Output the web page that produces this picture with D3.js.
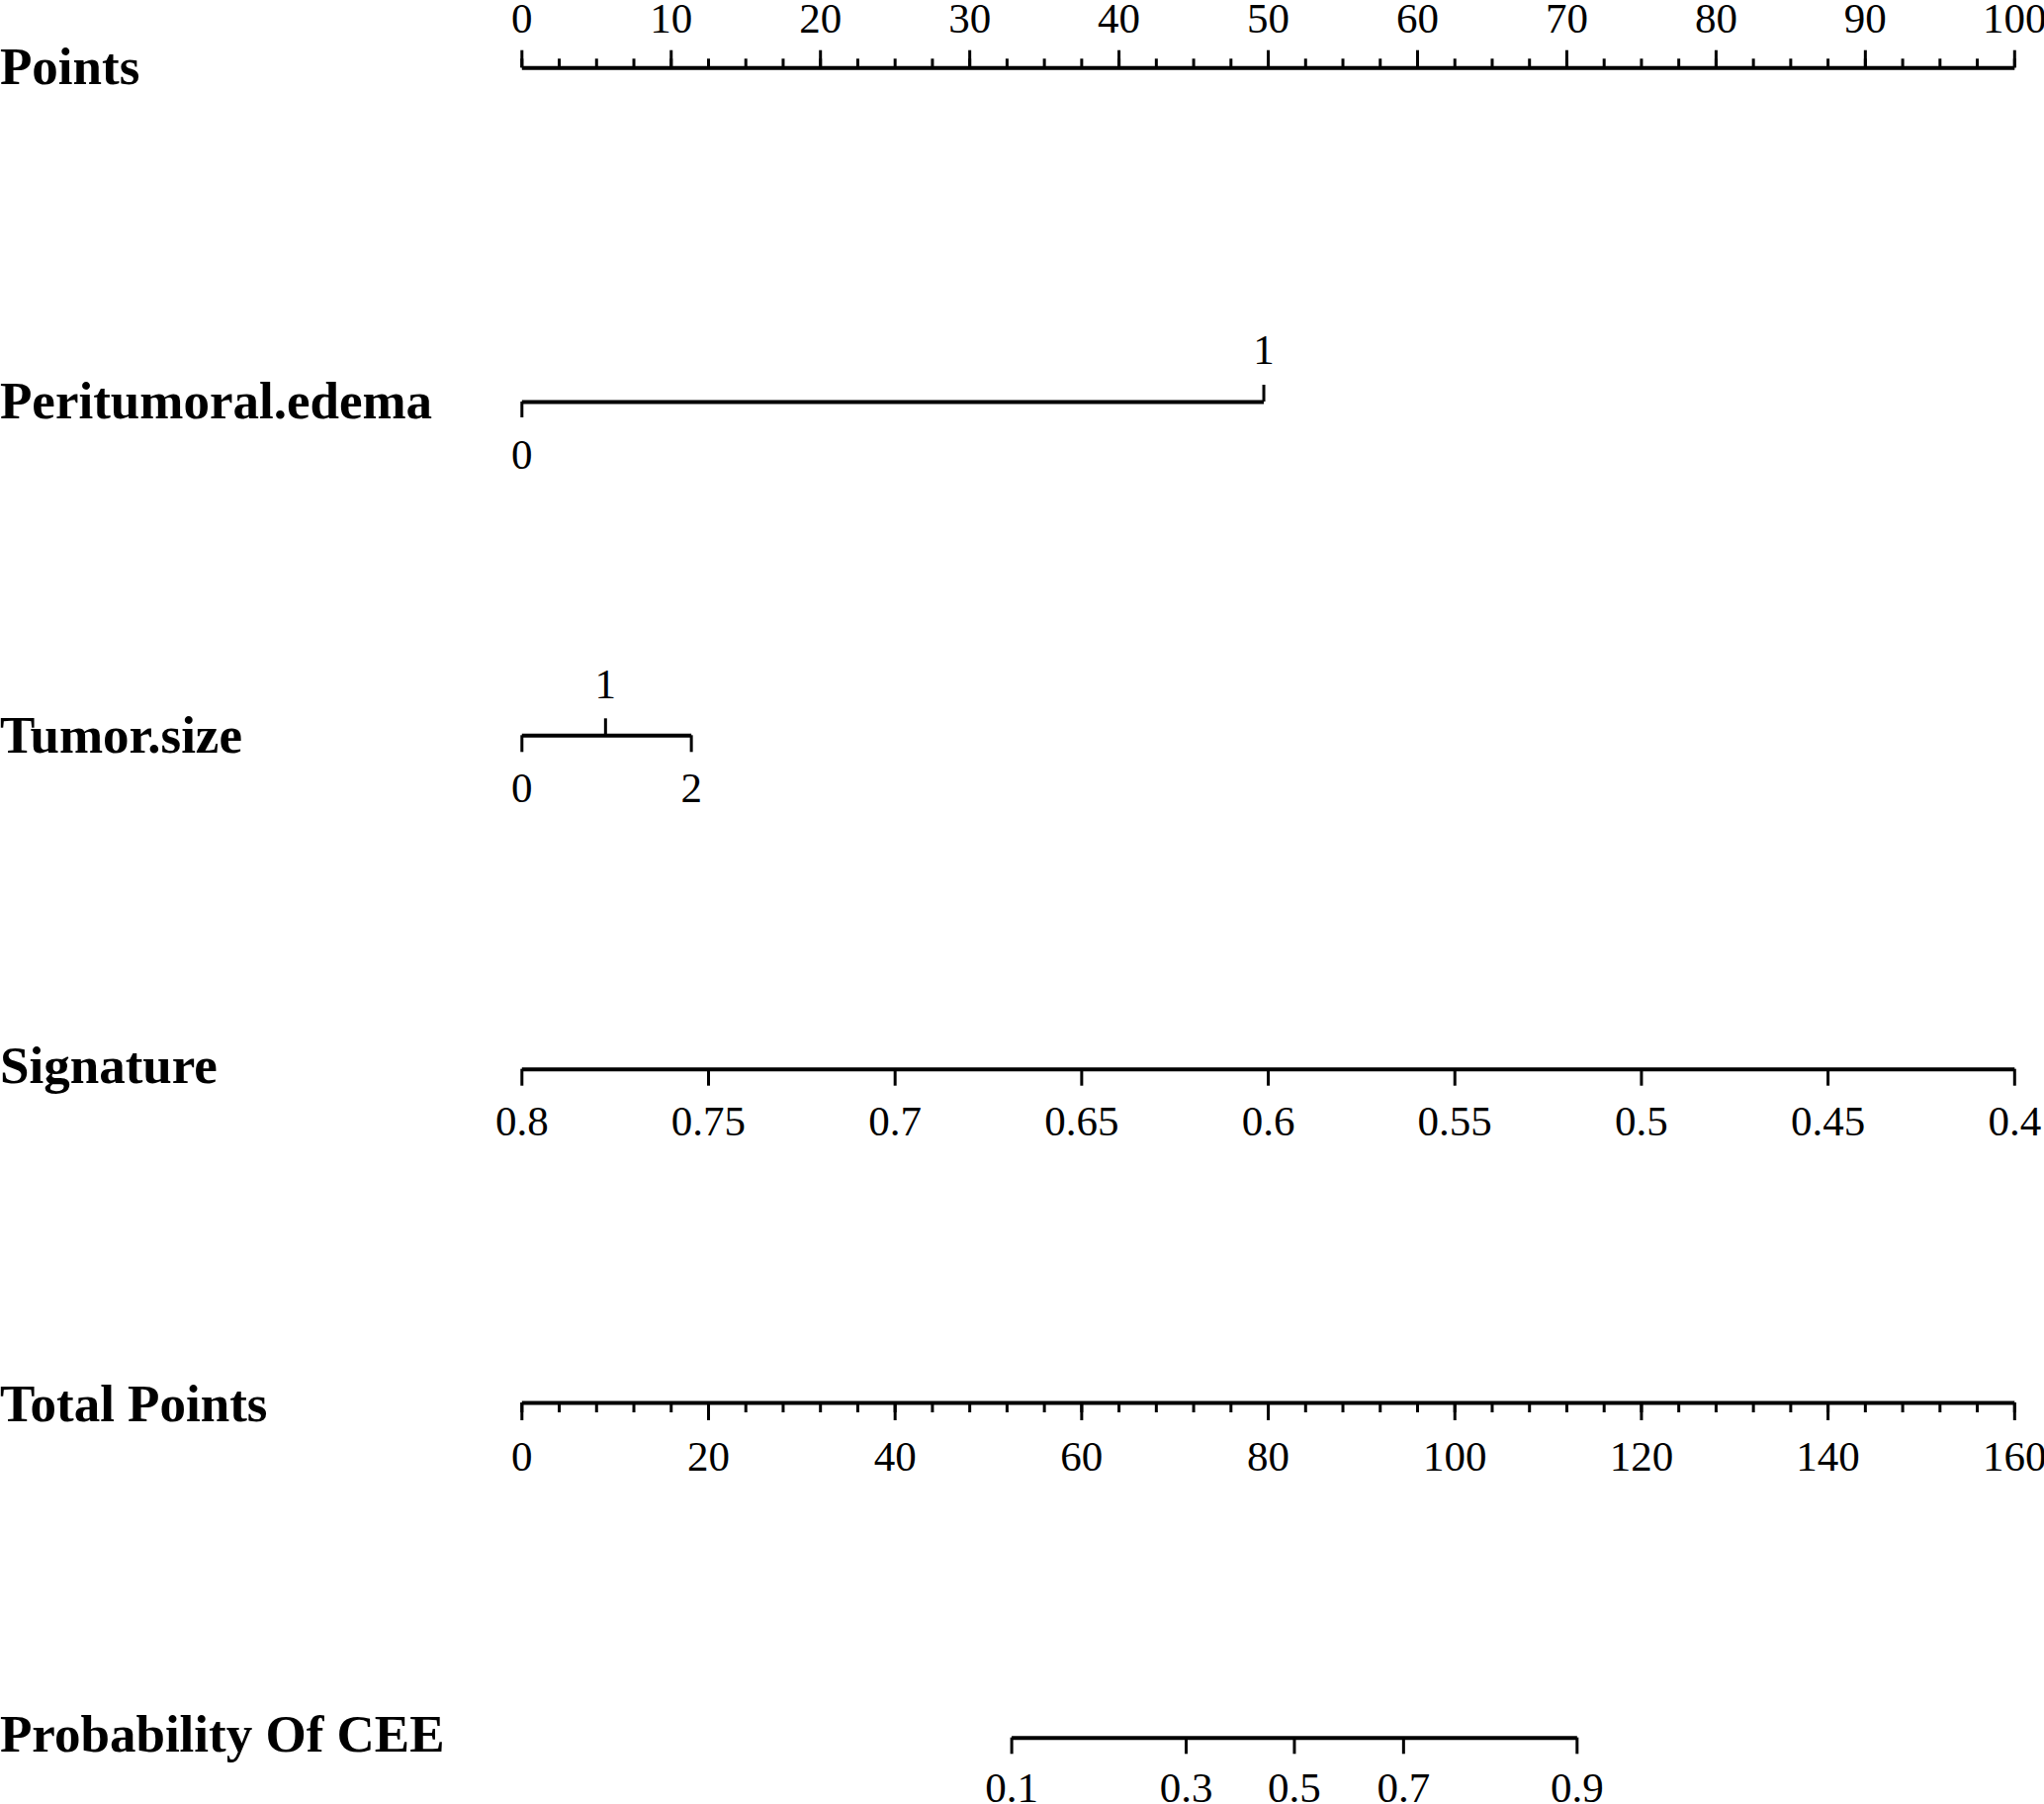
<!DOCTYPE html>
<html>
<head>
<meta charset="utf-8">
<script src="https://cdn.jsdelivr.net/npm/d3@7"></script>
<style>
html,body{margin:0;padding:0;background:#fff;}
svg{display:block;}
</style>
</head>
<body>
<svg id="chart" width="2067" height="1824"></svg>
<script>
// ---------- data ----------
const rowLabels = ["Points","Peritumoral.edema","Tumor.size","Signature","Total Points","Probability Of CEE"];

const pointsMajor = [0,10,20,30,40,50,60,70,80,90,100];
const pointsMinor = d3.range(0, 100.01, 2.5);

const edemaValues = [0, 1];
const edemaPoints = [0, 49.7];

const tumorValues = [0, 1, 2];
const tumorPoints = [0, 5.6, 11.35];

const signatureValues = [0.8,0.75,0.7,0.65,0.6,0.55,0.5,0.45,0.4];
const signatureLabels = ["0.8","0.75","0.7","0.65","0.6","0.55","0.5","0.45","0.4"];
const signaturePoints = [0,12.5,25,37.5,50,62.5,75,87.5,100];

const totalMajor = [0,20,40,60,80,100,120,140,160];
const totalMinor = d3.range(0, 160.01, 4);

const probValues = [0.1,0.3,0.5,0.7,0.9];
const probLabels = ["0.1","0.3","0.5","0.7","0.9"];
const probTotalPoints = [52.5,71.2,82.8,94.5,113.1];

// ---------- layout ----------
const svg = d3.select("#chart");
const X0 = 527.3, X1 = 2036.8;
const xPts = d3.scaleLinear().domain([0,100]).range([X0,X1]);
const xTot = d3.scaleLinear().domain([0,160]).range([X0,X1]);

const labelFont = "'Liberation Serif','Times New Roman',serif";
const rowY = [68.3, 406, 743.3, 1080.7, 1418, 1756.7];
const labelBase = [85, 423, 761, 1095, 1437, 1771];

svg.append("rect").attr("width",2067).attr("height",1824).attr("fill","#fff");

// row labels
svg.selectAll("text.rowlab").data(rowLabels).join("text")
  .attr("class","rowlab")
  .attr("x", 0)
  .attr("y", (d,i) => labelBase[i])
  .attr("font-family", labelFont)
  .attr("font-weight", "bold")
  .attr("font-size", 53)
  .attr("fill", "#000")
  .text(d => d);

function styleAxis(g, showDomain) {
  g.attr("font-family", labelFont).attr("font-size", 43);
  g.select(".domain").attr("stroke", showDomain ? "#000" : "none").attr("stroke-width", 4).attr("fill","none");
  g.selectAll(".tick line").attr("stroke","#000").attr("stroke-width",3);
  g.selectAll(".tick text").attr("fill","#000");
}

function drawAxis(axis, y, showDomain) {
  const g = svg.append("g").attr("transform", `translate(0,${y})`).call(axis);
  styleAxis(g, showDomain);
  return g;
}

// Points
drawAxis(d3.axisTop(xPts).tickValues(pointsMinor).tickSize(9).tickSizeOuter(0).tickFormat(""), rowY[0], false);
drawAxis(d3.axisTop(xPts).tickValues(pointsMajor).tickSize(17.6).tickSizeOuter(0).tickPadding(18).tickFormat(d3.format("d")), rowY[0], true);

// Peritumoral.edema
const xEdema = d3.scaleLinear().domain(edemaValues).range(edemaPoints.map(xPts));
drawAxis(d3.axisTop(xEdema).tickValues([edemaValues[1]]).tickSize(17).tickSizeOuter(0).tickPadding(21).tickFormat(d3.format("d")), rowY[1], true);
drawAxis(d3.axisBottom(xEdema).tickValues([edemaValues[0]]).tickSize(16).tickSizeOuter(0).tickPadding(21).tickFormat(d3.format("d")), rowY[1], false);

// Tumor.size
const xTumor = d3.scaleLinear().domain(tumorValues).range(tumorPoints.map(xPts));
drawAxis(d3.axisTop(xTumor).tickValues([tumorValues[1]]).tickSize(17).tickSizeOuter(0).tickPadding(20).tickFormat(d3.format("d")), rowY[2], true);
drawAxis(d3.axisBottom(xTumor).tickValues([tumorValues[0], tumorValues[2]]).tickSize(17).tickSizeOuter(0).tickPadding(20).tickFormat(d3.format("d")), rowY[2], false);

// Signature
const xSig = d3.scaleLinear().domain(signatureValues).range(signaturePoints.map(xPts));
drawAxis(d3.axisBottom(xSig).tickValues(signatureValues).tickSize(17).tickSizeOuter(0).tickPadding(20)
  .tickFormat((d,i) => signatureLabels[i]), rowY[3], true);

// Total Points
drawAxis(d3.axisBottom(xTot).tickValues(totalMinor).tickSize(10).tickSizeOuter(0).tickFormat(""), rowY[4], false);
drawAxis(d3.axisBottom(xTot).tickValues(totalMajor).tickSize(18).tickSizeOuter(0).tickPadding(20).tickFormat(d3.format("d")), rowY[4], true);

// Probability
const xProb = d3.scaleLinear().domain(probValues).range(probTotalPoints.map(xTot));
drawAxis(d3.axisBottom(xProb).tickValues(probValues).tickSize(16.6).tickSizeOuter(0).tickPadding(18)
  .tickFormat((d,i) => probLabels[i]), rowY[5], true);
</script>
</body>
</html>
